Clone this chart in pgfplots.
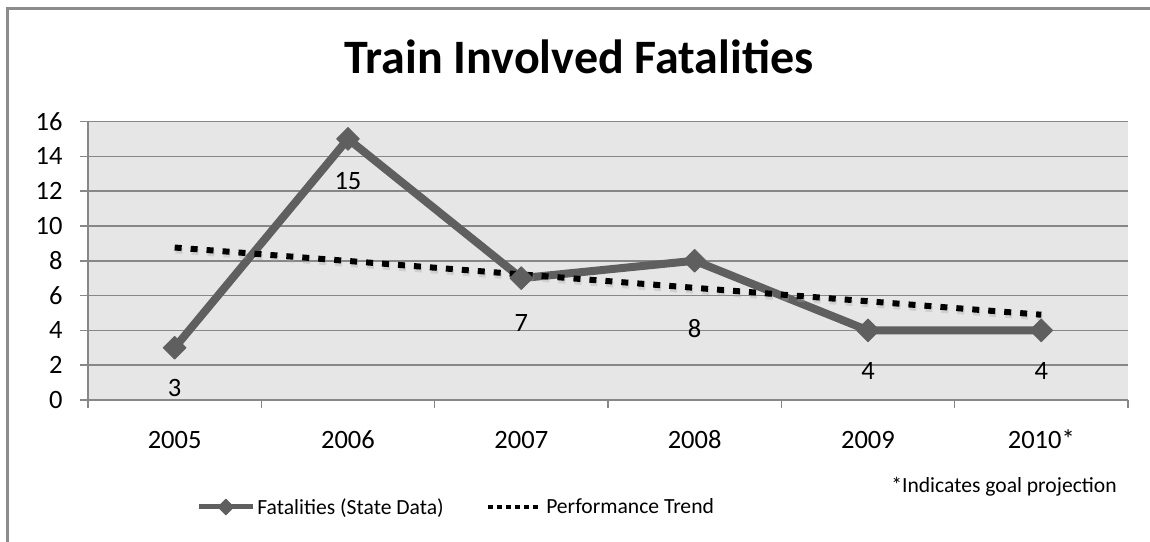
\documentclass[border=0pt]{standalone}
\usepackage{fontspec}
\setmainfont{Carlito}
\usepackage{pgfplots}
\pgfplotsset{compat=1.18}
\definecolor{bgc}{HTML}{E6E6E6}
\definecolor{gridc}{HTML}{878787}
\definecolor{linec}{HTML}{5F5F5F}
\definecolor{framec}{HTML}{8C8C8C}
\begin{document}
\begin{tikzpicture}[x=1pt,y=1pt]
\useasboundingbox (0,0) rectangle (1150,541);
\draw[framec, line width=2.5pt] (7.5,-5) -- (7.5,532.5) -- (1160,532.5);
\node[anchor=base, font=\fontsize{48}{54}\selectfont\bfseries] at (579,467) {Train Involved Fatalities};
\node[anchor=center, font=\fontsize{21.6}{26}\selectfont] at (1004,54) {*Indicates goal projection};
\begin{axis}[
  at={(88pt,141pt)}, anchor=south west,
  width=1040pt, height=278.5pt, scale only axis,
  xmin=-0.5, xmax=5.5, ymin=0, ymax=16,
  axis x line*=bottom, axis y line*=left,
  axis line style={gridc, line width=1.5pt, -},
  axis background/.style={fill=bgc},
  ytick={0,2,...,16},
  ymajorgrids, grid style={gridc, line width=1.5pt},
  xtick={-0.5,0.5,...,5.5},
  xticklabels={},
  extra x ticks={0,1,2,3,4,5},
  extra x tick labels={2005,2006,2007,2008,2009,2010*},
  extra x tick style={major tick length=0pt, grid=none,
    xticklabel style={anchor=base, yshift=-48pt}},
  tick align=outside,
  major tick length=8pt,
  tick style={gridc, line width=1.5pt},
  /pgf/number format/assume math mode=true,
  tick label style={font=\fontsize{26.5}{32}\selectfont, black},
  yticklabel style={xshift=-14pt},
  legend style={at={(0.354,-0.384)}, anchor=center, draw=none, fill=none,
    font=\fontsize{21.6}{26}\selectfont, legend columns=2,
    /tikz/every even column/.append style={column sep=40pt}},
  legend image code/.code={\draw[mark repeat=2,mark phase=2] plot coordinates {(0pt,0pt)(27pt,0pt)(54pt,0pt)};},
  clip=false,
]
\addplot[linec, line width=8pt, line join=round, mark=square*, mark size=8pt,
  mark options={rotate=45, line width=1pt, fill=linec, draw=linec},
  legend image post style={line width=5pt, mark size=5.5pt}]
  coordinates {(0,3)(1,15)(2,7)(3,8)(4,4)(5,4)};
\addplot[gray!70, line width=6pt, dash pattern=on 7pt off 9pt, opacity=0.35, yshift=-3pt, xshift=1pt, forget plot]
  coordinates {(0,8.76)(5,4.90)};
\addplot[black, line width=6pt, dash pattern=on 7pt off 9pt,
  legend image post style={line width=4.5pt, dash pattern=on 4.5pt off 4.5pt}]
  coordinates {(0,8.76)(5,4.90)};
\legend{Fatalities (State Data), Performance Trend}
\begin{scope}[font=\fontsize{26.5}{32}\selectfont]
\node at (axis cs:0,0.69) {3};
\node at (axis cs:1,12.6) {15};
\node at (axis cs:2,4.4) {7};
\node at (axis cs:3,4.13) {8};
\node at (axis cs:4,1.65) {4};
\node at (axis cs:5,1.65) {4};
\end{scope}
\end{axis}
\end{tikzpicture}
\end{document}
